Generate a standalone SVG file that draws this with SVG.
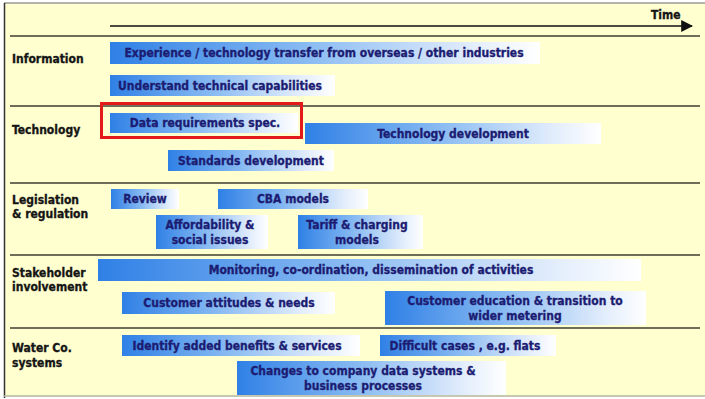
<svg xmlns="http://www.w3.org/2000/svg" width="705" height="399" viewBox="0 0 705 399">
  <defs>
    <linearGradient id="barFill" x1="0" y1="0" x2="1" y2="0">
      <stop offset="0" stop-color="#2f80e6"/>
      <stop offset="0.45" stop-color="#88baf2"/>
      <stop offset="0.85" stop-color="#e4eefc"/>
      <stop offset="1" stop-color="#ffffff"/>
    </linearGradient>
    <marker id="arrowHead" viewBox="0 0 10 10" refX="9" refY="5" markerWidth="12" markerHeight="12" markerUnits="userSpaceOnUse" orient="auto">
      <path d="M0,0 L10,5 L0,10 z" fill="#111111"/>
    </marker>
    <style>
      .frame { fill: #ffffcf; }
      .sep { stroke: #6e6e58; stroke-width: 2; fill: none; }
      .bar { fill: url(#barFill); }
      .bar-text { font-family: "DejaVu Sans Condensed", "DejaVu Sans", sans-serif; font-weight: bold; font-size: 12px; fill: #1c1c72; stroke: #1c1c72; stroke-width: 0.3; text-anchor: middle; }
      .row-label { font-family: "DejaVu Sans Condensed", "DejaVu Sans", sans-serif; font-weight: bold; font-size: 12px; fill: #151515; stroke: #151515; stroke-width: 0.3; }
      .highlight { fill: none; stroke: #e21a1a; stroke-width: 3; }
    </style>
  </defs>

  <!-- background panel and frame edges -->
  <rect x="0" y="0" width="705" height="399" fill="#ffffff"/>
  <rect class="frame" x="4" y="3" width="701" height="393"/>
  <line x1="4" y1="3" x2="705" y2="3" stroke="#9a9a9a" stroke-width="1.5"/>
  <line x1="4.5" y1="3" x2="4.5" y2="398" stroke="#333333" stroke-width="1.5"/>
  <line x1="4" y1="396" x2="705" y2="396" stroke="#b5b5a0" stroke-width="1.5"/>

  <!-- time axis -->
  <g id="time-axis">
    <line x1="110" y1="26" x2="692" y2="26" stroke="#111111" stroke-width="1.5" marker-end="url(#arrowHead)"/>
    <text class="row-label" x="651" y="19">Time</text>
  </g>

  <!-- row separators -->
  <g id="separators">
    <line class="sep" x1="10" y1="36" x2="700" y2="36"/>
    <line class="sep" x1="10" y1="106" x2="700" y2="106"/>
    <line class="sep" x1="10" y1="183" x2="700" y2="183"/>
    <line class="sep" x1="10" y1="255" x2="700" y2="255"/>
    <line class="sep" x1="10" y1="328" x2="700" y2="328"/>
  </g>

  <!-- row labels -->
  <g id="row-labels">
    <text class="row-label" x="12" y="63">Information</text>
    <text class="row-label" x="12" y="134">Technology</text>
    <text class="row-label" x="12" y="204">Legislation</text>
    <text class="row-label" x="12" y="218">&amp; regulation</text>
    <text class="row-label" x="12" y="277">Stakeholder</text>
    <text class="row-label" x="12" y="291">involvement</text>
    <text class="row-label" x="12" y="352">Water Co.</text>
    <text class="row-label" x="12" y="367">systems</text>
  </g>

  <!-- Information -->
  <g id="experience-transfer">
    <rect class="bar" x="110" y="42" width="430" height="22"/>
    <text class="bar-text" x="324" y="57">Experience / technology transfer from overseas / other industries</text>
  </g>
  <g id="technical-capabilities">
    <rect class="bar" x="110" y="75" width="225" height="21"/>
    <text class="bar-text" x="220" y="90">Understand technical capabilities</text>
  </g>

  <!-- Technology -->
  <g id="data-requirements">
    <rect class="bar" x="110" y="113" width="188" height="20"/>
    <text class="bar-text" x="205" y="127">Data requirements spec.</text>
    <rect class="highlight" x="101.5" y="103.5" width="200" height="34"/>
  </g>
  <g id="technology-development">
    <rect class="bar" x="305" y="123" width="296" height="21"/>
    <text class="bar-text" x="453" y="138">Technology  development</text>
  </g>
  <g id="standards-development">
    <rect class="bar" x="168" y="150" width="166" height="21"/>
    <text class="bar-text" x="251" y="165">Standards development</text>
  </g>

  <!-- Legislation & regulation -->
  <g id="review">
    <rect class="bar" x="111" y="189" width="68" height="20"/>
    <text class="bar-text" x="145" y="203">Review</text>
  </g>
  <g id="cba-models">
    <rect class="bar" x="218" y="189" width="150" height="20"/>
    <text class="bar-text" x="293" y="203">CBA models</text>
  </g>
  <g id="affordability">
    <rect class="bar" x="156" y="215" width="112" height="34"/>
    <text class="bar-text" x="210" y="229">Affordability &amp;</text>
    <text class="bar-text" x="210" y="244">social issues</text>
  </g>
  <g id="tariff-charging">
    <rect class="bar" x="298" y="215" width="125" height="34"/>
    <text class="bar-text" x="357" y="229">Tariff &amp; charging</text>
    <text class="bar-text" x="357" y="244">models</text>
  </g>

  <!-- Stakeholder involvement -->
  <g id="monitoring">
    <rect class="bar" x="98" y="259" width="543" height="22"/>
    <text class="bar-text" x="371" y="274">Monitoring, co-ordination, dissemination of activities</text>
  </g>
  <g id="customer-attitudes">
    <rect class="bar" x="122" y="292" width="213" height="22"/>
    <text class="bar-text" x="229" y="307">Customer attitudes &amp; needs</text>
  </g>
  <g id="customer-education">
    <rect class="bar" x="385" y="291" width="261" height="34"/>
    <text class="bar-text" x="515" y="305">Customer education &amp; transition to</text>
    <text class="bar-text" x="515" y="320">wider metering</text>
  </g>

  <!-- Water Co. systems -->
  <g id="added-benefits">
    <rect class="bar" x="122" y="335" width="238" height="21"/>
    <text class="bar-text" x="237" y="350">Identify added benefits &amp; services</text>
  </g>
  <g id="difficult-cases">
    <rect class="bar" x="380" y="335" width="176" height="21"/>
    <text class="bar-text" x="465" y="350">Difficult cases , e.g. flats</text>
  </g>
  <g id="company-systems">
    <rect class="bar" x="237" y="361" width="269" height="34"/>
    <text class="bar-text" x="363" y="375">Changes to company data systems &amp;</text>
    <text class="bar-text" x="363" y="390">business processes</text>
  </g>
</svg>
